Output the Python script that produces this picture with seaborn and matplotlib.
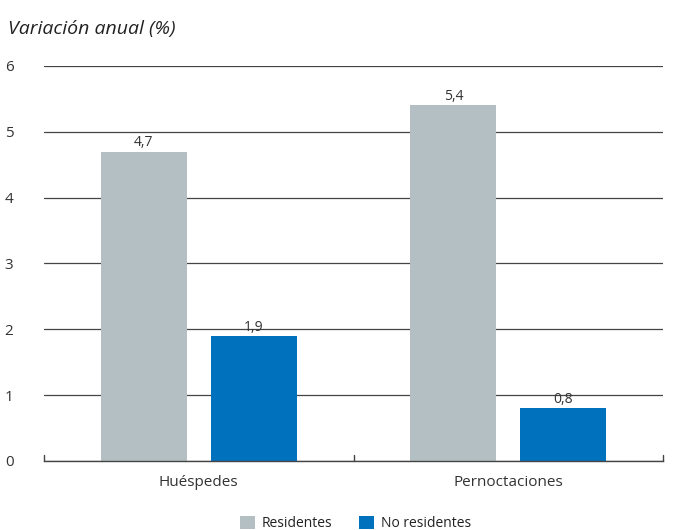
import matplotlib
matplotlib.use("Agg")
import matplotlib.pyplot as plt
import seaborn as sns
import pandas as pd

categories = ["Huéspedes", "Pernoctaciones"]
series = ["Residentes", "No residentes"]
residentes = [4.7, 5.4]
no_residentes = [1.9, 0.8]
yticks = [0, 1, 2, 3, 4, 5, 6]

df = pd.DataFrame({
    "cat": categories * 2,
    "serie": [series[0]] * 2 + [series[1]] * 2,
    "val": residentes + no_residentes,
})

sns.set_theme(style="white")
plt.rcParams["font.family"] = ["Open Sans", "DejaVu Sans"]

fig = plt.figure(figsize=(6.74, 5.3), dpi=100)
ax = fig.add_axes([0.0653, 0.1302, 0.9184, 0.7453])

palette = {"Residentes": "#b4bfc3", "No residentes": "#0071bc"}
sns.barplot(data=df, x="cat", y="val", hue="serie", hue_order=series,
            order=categories, palette=palette, width=0.71, gap=0.22,
            saturation=1, ax=ax, legend=True, edgecolor="none")

ax.set_xlim(-0.5, 1.5)
ax.set_ylim(0, 6)
ax.set_yticks(yticks)
ax.set_yticklabels([str(t) for t in yticks], fontsize=11, color="#333333")
ax.yaxis.grid(True, color="#444444", linewidth=0.9)
ax.set_axisbelow(True)
for s in ["left", "right", "top"]:
    ax.spines[s].set_visible(False)
ax.spines["bottom"].set_color("#444444")
ax.spines["bottom"].set_linewidth(1.0)
ax.tick_params(axis="y", length=0, pad=22)
ax.set_xticks([0, 1])
ax.set_xticklabels(categories, fontsize=11, color="#333333")
ax.tick_params(axis="x", length=0, pad=10)
for xb in [-0.5, 0.5, 1.5]:
    ax.plot([xb, xb], [0, 0.09], color="#444444", linewidth=1.0, clip_on=False)
ax.set_xlabel("")
ax.set_ylabel("")

for cont in ax.containers:
    labels = [f"{b.get_height():.1f}".replace(".", ",") for b in cont]
    ax.bar_label(cont, labels=labels, padding=1, fontsize=10, color="#333333")

leg = ax.legend(loc="center", bbox_to_anchor=(0.503, -0.158), ncol=2,
                frameon=False, fontsize=10, handlelength=1.1, handleheight=1.1,
                columnspacing=1.9, handletextpad=0.5)
for t in leg.get_texts():
    t.set_color("#222222")

fig.text(0.012, 0.945, "Variación anual (%)", fontsize=14, style="italic",
         color="#222222", va="center")

fig.savefig("out.png", dpi=100)
